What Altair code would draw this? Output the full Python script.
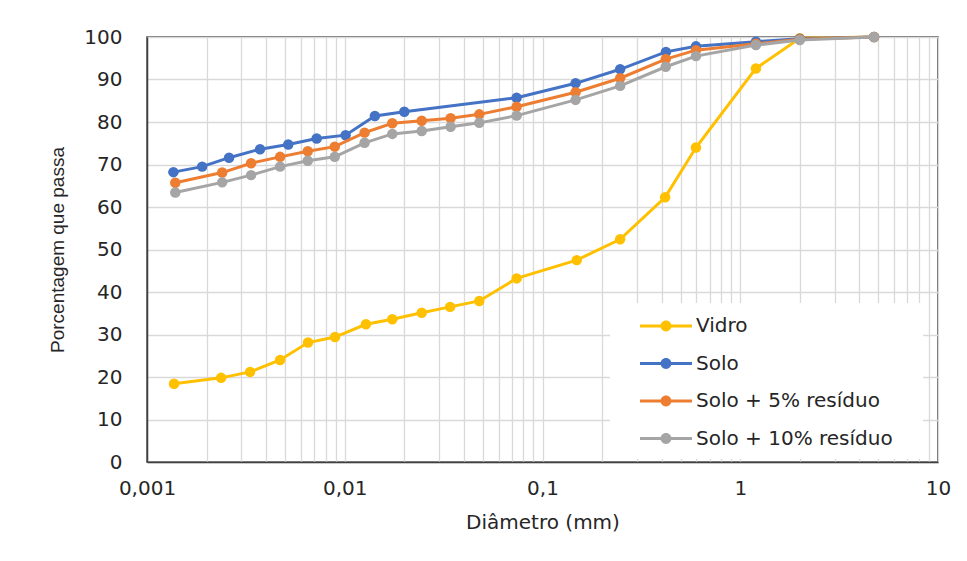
import altair as alt
import pandas as pd

series_names = ["Vidro", "Solo", "Solo + 5% resíduo", "Solo + 10% resíduo"]
series_colors = ["#FFC000", "#4472C4", "#ED7D31", "#A5A5A5"]

vidro_x = [0.00137, 0.00237, 0.00332, 0.00471, 0.00652, 0.00893, 0.0128, 0.0174,
           0.0245, 0.0341, 0.0479, 0.074, 0.149, 0.247, 0.417, 0.597, 1.2, 2.0, 4.75]
vidro_y = [18.4, 19.8, 21.2, 24.0, 28.1, 29.4, 32.4, 33.6, 35.1, 36.5, 37.9,
           43.2, 47.5, 52.4, 62.3, 74.0, 92.6, 99.7, 100.0]

solo_x = [0.00136, 0.0019, 0.0026, 0.00373, 0.00518, 0.00721, 0.0101, 0.0142,
          0.0200, 0.074, 0.147, 0.247, 0.421, 0.597, 1.2, 2.0, 4.75]
solo_y = [68.2, 69.5, 71.6, 73.6, 74.7, 76.1, 76.9, 81.4, 82.4, 85.7, 89.1,
          92.4, 96.5, 97.8, 98.9, 99.6, 100.0]

solo5_x = [0.00139, 0.0024, 0.00336, 0.00471, 0.0065, 0.0089, 0.0126, 0.0174,
           0.0245, 0.0343, 0.0479, 0.074, 0.147, 0.247, 0.42, 0.597, 1.2, 2.0, 4.75]
solo5_y = [65.7, 68.1, 70.3, 71.8, 73.1, 74.2, 77.5, 79.7, 80.3, 80.9, 81.8,
           83.6, 87.0, 90.3, 94.8, 96.9, 98.4, 99.5, 100.0]

solo10_x = [0.00139, 0.0024, 0.00336, 0.00471, 0.0065, 0.0089, 0.0126, 0.0174,
            0.0245, 0.0343, 0.0479, 0.074, 0.147, 0.247, 0.42, 0.597, 1.2, 2.0, 4.75]
solo10_y = [63.4, 65.8, 67.5, 69.5, 70.9, 71.8, 75.1, 77.2, 77.9, 78.9, 79.8,
            81.5, 85.2, 88.5, 93.0, 95.5, 98.1, 99.3, 100.0]

all_x = [vidro_x, solo_x, solo5_x, solo10_x]
all_y = [vidro_y, solo_y, solo5_y, solo10_y]

rows = []
for name, xs, ys in zip(series_names, all_x, all_y):
    for i, (xv, yv) in enumerate(zip(xs, ys)):
        rows.append({"serie": name, "linha": name, "d": xv, "p": yv, "i": i})
df = pd.DataFrame(rows)

# axis tick values (major decades + minor grid)
grid_vals = []
for e in range(-3, 1):
    for m in range(1, 10):
        grid_vals.append(round(m * 10 ** e, 6))
grid_vals.append(10)

label_expr = ("abs(log(datum.value)/log(10) - round(log(datum.value)/log(10))) < 1e-6 "
              "? replace(format(datum.value, '~g'), '.', ',') : ''")

xscale = alt.Scale(type="log", domain=[0.001, 10], nice=False)
yscale = alt.Scale(domain=[0, 100], nice=False)

x_enc = alt.X("d:Q", scale=xscale, title="Diâmetro (mm)",
              axis=alt.Axis(values=grid_vals, labelExpr=label_expr, labelOverlap=False,
                            labelFlush=False, ticks=False, labelPadding=16,
                            titlePadding=14, grid=True))
y_enc = alt.Y("p:Q", scale=yscale, title="Porcentagem que passa",
              axis=alt.Axis(values=list(range(0, 101, 10)), ticks=False,
                            labelPadding=25, titlePadding=16, grid=True,
                            titleFont="Liberation Sans", titleFontSize=19))

legend_path = ("M-1,-0.12L3,-0.12L3,0.12L-1,0.12Z "
               "M1.42,0A0.42,0.42,0,1,1,0.58,0A0.42,0.42,0,1,1,1.42,0Z")

color_scale = alt.Scale(domain=series_names, range=series_colors)

layers = []
for name in series_names:
    base = alt.Chart(df).transform_filter(alt.datum.serie == name)
    line = base.mark_line(strokeWidth=3).encode(
        x=x_enc, y=y_enc, order="i:Q",
        stroke=alt.Stroke("linha:N", scale=color_scale, legend=None),
    )
    pts = base.mark_point(filled=True, size=110, opacity=1).encode(
        x=x_enc, y=y_enc,
        color=alt.Color("serie:N", scale=color_scale,
                        legend=alt.Legend(
                            title="\u00a0", titleOrient="right",
                            titleFontSize=20, titlePadding=20,
                            orient="none", legendX=463, legendY=266,
                            symbolType=legend_path, symbolSize=676,
                            symbolStrokeWidth=0, symbolOpacity=1,
                            labelOffset=30, symbolOffset=20,
                            labelFont="DejaVu Sans", labelFontSize=20,
                            labelColor="#262626", rowPadding=14.5,
                            padding=10, fillColor="white",
                            labelLimit=400)),
    )
    layers += [line, pts]

chart = alt.layer(*layers).resolve_scale(stroke="independent").properties(
    width=791, height=425,
    autosize=alt.AutoSizeParams(type="none"),
    padding={"left": 139, "top": 29, "right": 21, "bottom": 90},
    background="white",
).configure_view(
    stroke="#404040", strokeWidth=1.5
).configure_axis(
    gridColor="#D9D9D9", gridWidth=1.3,
    domainColor="#404040", domainWidth=1.5,
    labelFont="DejaVu Sans", labelFontSize=20, labelColor="#262626",
    titleFont="DejaVu Sans", titleFontSize=20, titleColor="#262626",
    titleFontWeight="normal",
)

chart.save("out.html", embed_options={"renderer": "svg", "actions": False})
